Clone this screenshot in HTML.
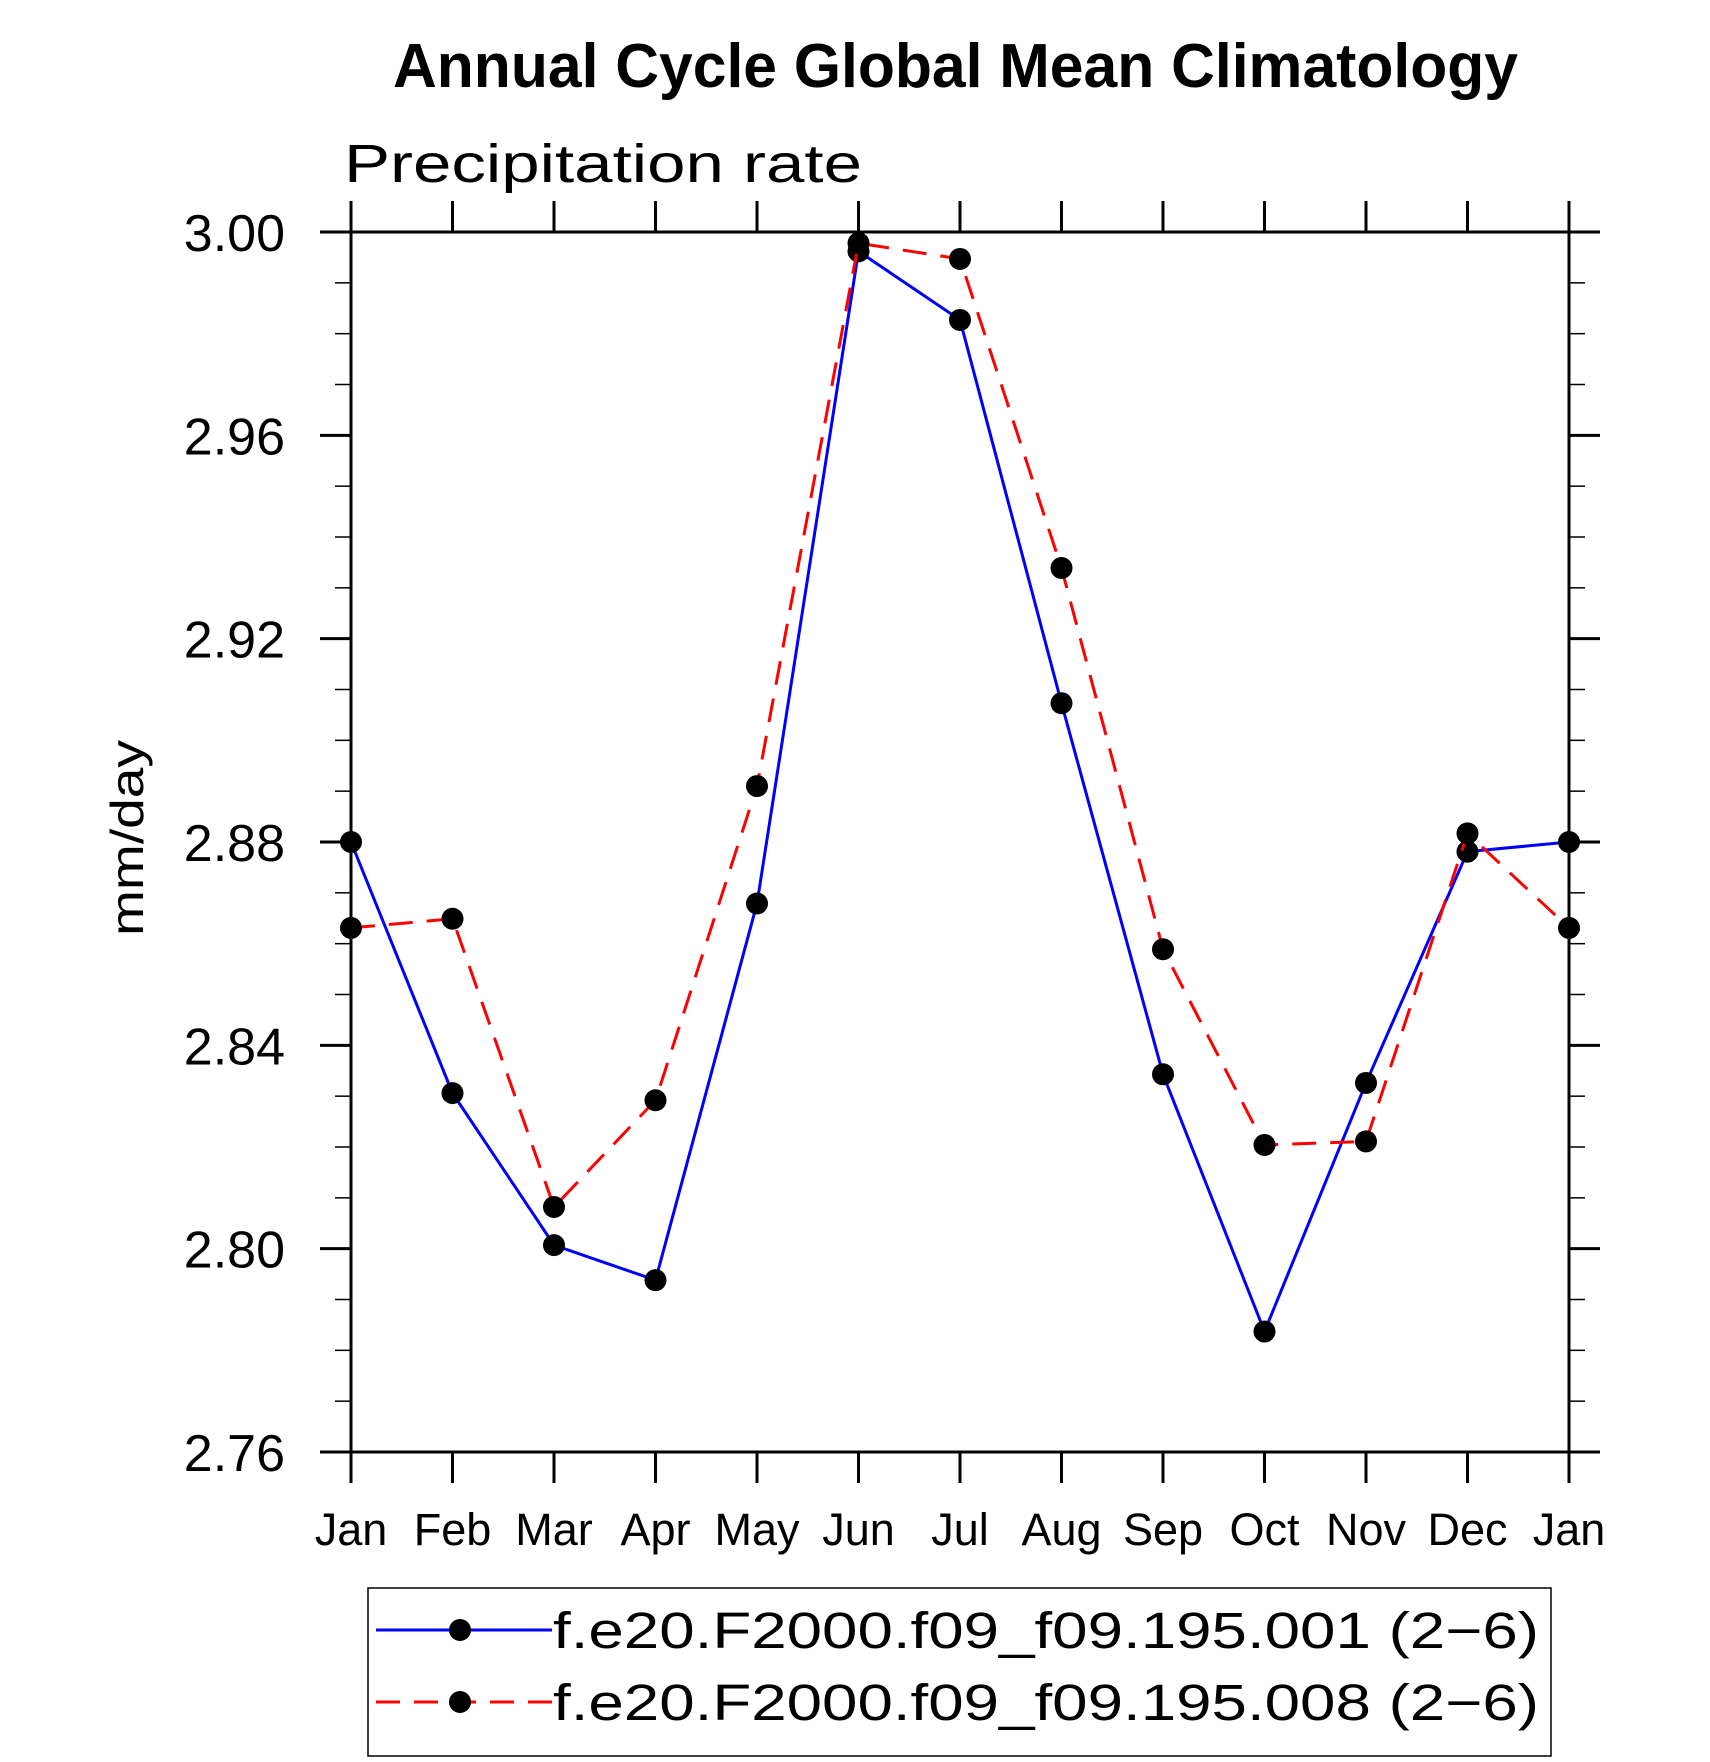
<!DOCTYPE html>
<html><head><meta charset="utf-8"><style>html,body{margin:0;padding:0;background:#fff}svg{display:block}</style></head>
<body>
<svg id="chart" width="1710" height="1762" viewBox="0 0 1710 1762" xmlns="http://www.w3.org/2000/svg" font-family="Liberation Sans, sans-serif">
<text x="393" y="87" font-size="62" font-weight="bold" textLength="1125" lengthAdjust="spacingAndGlyphs">Annual Cycle Global Mean Climatology</text>
<text x="344" y="182" font-size="54" textLength="518" lengthAdjust="spacingAndGlyphs">Precipitation rate</text>
<text transform="translate(143,838) rotate(-90)" text-anchor="middle" font-size="46" textLength="196" lengthAdjust="spacingAndGlyphs">mm/day</text>
<g id="axes"></g>
<g id="series"></g>
<g id="legend">
<rect x="368" y="1588" width="1183" height="168" fill="none" stroke="#000" stroke-width="1.5"/>
<line x1="376" y1="1630" x2="552" y2="1630" stroke="#0000ff" stroke-width="3"/>
<circle cx="460" cy="1630" r="11" fill="#000"/>
<text x="553" y="1648" font-size="51" textLength="986" lengthAdjust="spacingAndGlyphs">f.e20.F2000.f09_f09.195.001 (2−6)</text>
<line x1="376" y1="1702" x2="552" y2="1702" stroke="#ff0000" stroke-width="3" stroke-dasharray="24,14"/>
<circle cx="460" cy="1702" r="11" fill="#000"/>
<text x="553" y="1720" font-size="51" textLength="986" lengthAdjust="spacingAndGlyphs">f.e20.F2000.f09_f09.195.008 (2−6)</text>
</g>
</svg>
<script>
const months = ["Jan","Feb","Mar","Apr","May","Jun","Jul","Aug","Sep","Oct","Nov","Dec","Jan"];
const series001 = [2.880,2.8306,2.8007,2.7938,2.8679,2.9962,2.9827,2.9073,2.8343,2.7837,2.8326,2.8781,2.880];
const series008 = [2.8631,2.8649,2.8082,2.8292,2.8910,2.9978,2.9947,2.9339,2.8589,2.8204,2.8211,2.8817,2.8631];
const yTicks = [2.76,2.80,2.84,2.88,2.92,2.96,3.00];
const yMin = 2.76, yMax = 3.00;
const L=351,R=1569,T=232,B=1452;
const NS="http://www.w3.org/2000/svg";
function x(i){return L+(R-L)*i/(months.length-1);}
function y(v){return B-(B-T)*(v-yMin)/(yMax-yMin);}
function mk(tag,attrs,parent){const e=document.createElementNS(NS,tag);for(const k in attrs)e.setAttribute(k,attrs[k]);parent.appendChild(e);return e;}
const ax=document.getElementById('axes');
const frame=mk('rect',{x:L,y:T,width:R-L,height:B-T,fill:'none',stroke:'#000','stroke-width':3},ax);


months.forEach((m,i)=>{
  const xi=x(i);
  mk('line',{x1:xi,y1:B,x2:xi,y2:B+31,stroke:'#000','stroke-width':3},ax);
  mk('line',{x1:xi,y1:T,x2:xi,y2:T-31,stroke:'#000','stroke-width':3},ax);
  const t=mk('text',{x:xi,y:1545,'text-anchor':'middle','font-size':45},ax);
  t.textContent=m;
  
  
});
for(let k=0;k<=24;k++){
  const v=yMin+k*0.01, yy=y(v);
  const major=(k%4===0);
  const len=major?31:16;
  mk('line',{x1:L-len,y1:yy,x2:L,y2:yy,stroke:'#000','stroke-width':major?3:1.5},ax);
  mk('line',{x1:R,y1:yy,x2:R+len,y2:yy,stroke:'#000','stroke-width':major?3:1.5},ax);
}
yTicks.forEach(v=>{
  const t=mk('text',{x:285,y:y(v)+19,'text-anchor':'end','font-size':52},ax);
  t.textContent=v.toFixed(2);
  
  
});
const sg=document.getElementById('series');
function draw(data,color,dash,name){
  const pts=data.map((v,i)=>x(i)+','+y(v)).join(' ');
  const pl=mk('polyline',{points:pts,fill:'none',stroke:color,'stroke-width':3,'stroke-dasharray':dash},sg);
  
  
  data.forEach((v,i)=>{
    const c=mk('circle',{cx:x(i),cy:y(v),r:11,fill:'#000'},sg);
    
    
  });
}
draw(series001,'#0000ff','none','series-001');
draw(series008,'#ff0000','24,14','series-008');
</script>
</body></html>
